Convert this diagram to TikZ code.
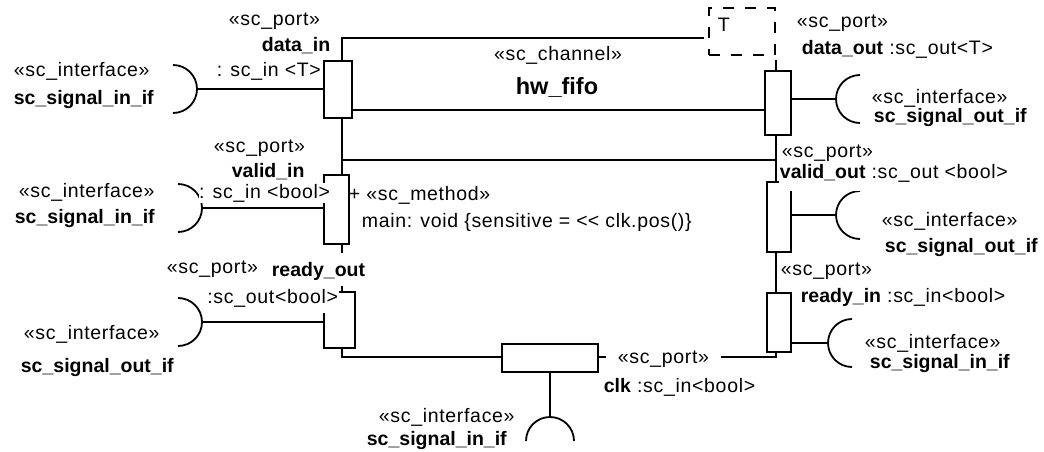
\documentclass[tikz,border=0pt]{standalone}
\usepackage{fontspec}
\setmainfont[LetterSpace=3.5,BoldFeatures={LetterSpace=0}]{Liberation Sans}
\newcommand\fsz{\fontsize{19.5}{23}\selectfont}
\begin{document}
\begin{tikzpicture}[x=1pt,y=-1pt,line width=1.8pt,
  port/.style={draw,fill=white,inner sep=0pt},
  txt/.style={font=\fsz,inner sep=1pt,anchor=base west},
  btxt/.style={txt,font=\fsz\bfseries},
  wbg/.style={fill=white}]
\useasboundingbox (0,0) rectangle (1044,452);
% class box
\node[draw,inner sep=0pt,minimum width=434pt,minimum height=319pt,anchor=north west] (cls) at (341,37) {};
\coordinate (s1) at (0,110);
\coordinate (s2) at (0,160);
\draw (cls.west |- s1) -- (cls.east |- s1);
\draw (cls.west |- s2) -- (cls.east |- s2);
% template parameter
\node[draw,dashed,dash pattern=on 11pt off 11pt,fill=white,preaction={draw=white,solid,line width=10pt},inner sep=0pt,minimum width=66pt,minimum height=47pt] (tpl) at (742,31.5) {};
\node[txt] (tT) at (716,32) {T};
% ports
\node[port,minimum width=28pt,minimum height=57pt] (pDin) at (338,89.5) {};
\node[port,minimum width=25pt,minimum height=69pt] (pVin) at (336.5,209.5) {};
\node[port,minimum width=31pt,minimum height=56pt] (pRout) at (339.5,320) {};
\node[port,minimum width=26pt,minimum height=64pt] (pDout) at (778,103) {};
\node[port,minimum width=24pt,minimum height=70pt] (pVout) at (779,217) {};
\node[port,minimum width=24pt,minimum height=59pt] (pRin) at (779,322.5) {};
\node[port,minimum width=96pt,minimum height=28pt] (pClk) at (550,358) {};
% interfaces
\coordinate (iDin) at (197,89);
\coordinate (iVin) at (202,208);
\coordinate (iRout) at (202,322);
\coordinate (oDout) at (836,99);
\coordinate (oVout) at (836,215);
\coordinate (oRin) at (828,343);
\coordinate (cTip) at (550,417);
\draw (iDin) arc[start angle=0,end angle=90,radius=24];
\draw (iDin) arc[start angle=0,end angle=-90,radius=24];
\draw (iVin) arc[start angle=0,end angle=90,radius=24];
\draw (iVin) arc[start angle=0,end angle=-90,radius=24];
\draw (iRout) arc[start angle=0,end angle=90,radius=24];
\draw (iRout) arc[start angle=0,end angle=-90,radius=24];
\draw (oDout) arc[start angle=180,end angle=90,radius=24];
\draw (oDout) arc[start angle=180,end angle=270,radius=24];
\draw (oVout) arc[start angle=180,end angle=90,radius=24];
\draw (oVout) arc[start angle=180,end angle=270,radius=24];
\draw (oRin) arc[start angle=180,end angle=90,radius=24];
\draw (oRin) arc[start angle=180,end angle=270,radius=24];
\draw (cTip) arc[start angle=-90,end angle=0,radius=24];
\draw (cTip) arc[start angle=-90,end angle=-180,radius=24];
% connectors
\draw (iDin) -- (iDin -| pDin.west);
\draw (iVin) -- (iVin -| pVin.west);
\draw (iRout) -- (iRout -| pRout.west);
\draw (pDout.east |- oDout) -- (oDout);
\draw (pVout.east |- oVout) -- (oVout);
\draw (pRin.east |- oRin) -- (oRin);
\draw (pClk.south) -- (cTip);
% left interface labels
\node[txt] (l1a) at (12,77) {«sc\_interface»};
\node[btxt] (l1b) at (12,104) {sc\_signal\_in\_if};
\node[txt] (l2a) at (17,197) {«sc\_interface»};
\node[btxt] (l2b) at (13,223) {sc\_signal\_in\_if};
\node[txt] (l3a) at (22,339) {«sc\_interface»};
\node[btxt] (l3b) at (19,372) {sc\_signal\_out\_if};
% left port labels
\node[txt] (n1) at (227,26) {«sc\_port»};
\node[btxt] (n2) at (260,52) {data\_in};
\node[txt] (n3) at (215,77) {: sc\_in <T>};
\node[txt] (n4) at (212,152) {«sc\_port»};
\node[btxt] (n5) at (230,177) {valid\_in};
\node[txt,wbg,anchor=base east,inner xsep=0pt,text depth=4pt] (n6) at (331,198) {: sc\_in <bool>};
\node[txt] (n7) at (165,273) {«sc\_port»};
\node[btxt,wbg,text height=22pt,text depth=9pt] (n8) at (270,276) {ready\_out};
\node[txt,wbg,anchor=base east,text depth=9pt] (n9) at (340,303) {:sc\_out<bool>};
% class labels
\node[txt,anchor=base] (c1) at (558,60) {«sc\_channel»};
\node[btxt,anchor=base,font=\fontsize{23.5}{28}\selectfont\bfseries] (c2) at (557,95) {hw\_fifo};
\node[txt,inner sep=0pt] (c3) at (348,200) {+ «sc\_method»};
\node[txt] (c4) at (360,227) {main: void \{sensitive = <\kern0pt< clk.pos()\}};
% right labels
\node[txt] (r1) at (795,28) {«sc\_port»};
\node[txt] (r2) at (800,55) {\textbf{data\_out} :sc\_out<T>};
\node[txt] (r3) at (870,103) {«sc\_interface»};
\node[btxt] (r4) at (872,122) {sc\_signal\_out\_if};
\node[txt,wbg,text depth=12pt] (r6) at (778,178) {\textbf{valid\_out} :sc\_out <bool>};
\node[txt] (r5) at (780,157) {«sc\_port»};
\node[txt] (r7) at (880,226) {«sc\_interface»};
\node[btxt] (r8) at (883,252) {sc\_signal\_out\_if};
\node[txt] (r9) at (779,275) {«sc\_port»};
\node[txt] (r10) at (799,302) {\textbf{ready\_in} :sc\_in<bool>};
\node[txt] (r11) at (863,348) {«sc\_interface»};
\node[btxt] (r12) at (868,368) {sc\_signal\_in\_if};
% clk labels
\node[txt,wbg,inner xsep=12pt] (k1) at (605,363) {«sc\_port»};
\node[txt] (k2) at (602,392) {\textbf{clk} :sc\_in<bool>};
\node[txt] (k3) at (377,422) {«sc\_interface»};
\node[btxt] (k4) at (365,445) {sc\_signal\_in\_if};
\end{tikzpicture}
\end{document}
